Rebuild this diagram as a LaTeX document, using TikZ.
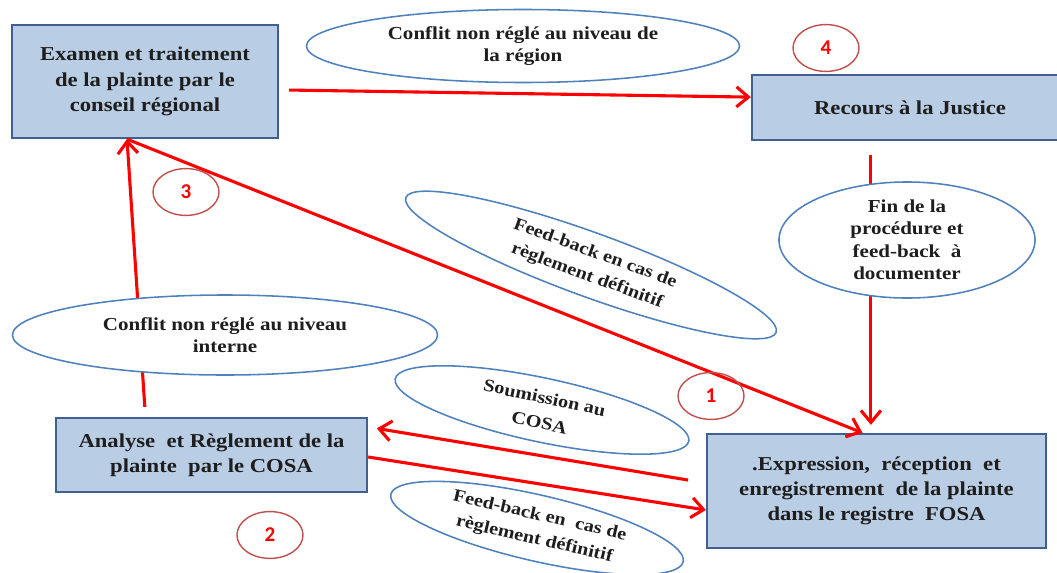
\documentclass[tikz,border=0pt]{standalone}
\usepackage{fontspec}
\setmainfont{Liberation Serif}[FakeStretch=1.15]
\newfontfamily\numfont{Carlito}
\usetikzlibrary{shapes.geometric,arrows.meta}
\definecolor{boxfill}{RGB}{185,205,228}
\definecolor{boxline}{RGB}{65,95,145}
\definecolor{bleu}{RGB}{79,129,189}
\definecolor{rouge}{RGB}{255,0,0}
\definecolor{brique}{RGB}{192,80,77}
\definecolor{encre}{RGB}{30,30,30}

\begin{document}
\begin{tikzpicture}[x=0.025cm,y=-0.025cm,
  etape/.style={draw=boxline,line width=1.6pt,fill=boxfill,align=center,text=encre,
    font=\bfseries\fontsize{14}{18}\selectfont,inner sep=0pt},
  bulle/.style={ellipse,draw=bleu,line width=1.1pt,fill=white,align=center,text=encre,
    font=\bfseries\fontsize{13}{16}\selectfont,inner sep=0pt},
  penche/.style={bulle,font=\bfseries\fontsize{12.5}{17}\selectfont},
  numero/.style={ellipse,draw=brique,line width=1pt,text=rouge,
    font=\numfont\bfseries\fontsize{15}{15}\selectfont,minimum width=1.65cm,minimum height=1.17cm},
  fleche/.style={draw=rouge,line width=2.2pt,-{Straight Barb[length=3mm,width=5mm]}}]
\path[use as bounding box,clip] (0,0) rectangle (1057,572);

% les etapes
\node[etape,minimum width=6.65cm,minimum height=2.825cm] (examen) at (145,81.5) {Examen et traitement\\de la plainte par le\\conseil régional};
\node[etape,minimum width=7.9cm,minimum height=1.625cm] (recours) at (910,107.5) {Recours à la Justice};
\node[etape,minimum width=7.775cm,minimum height=1.85cm] (cosa) at (211.5,455) {Analyse~ et Règlement de la\\plainte~ par le COSA};
\node[etape,minimum width=8.475cm,minimum height=2.85cm] (fosa) at (876.5,491) {.Expression,~ réception~ et\\enregistrement~ de la plainte\\dans le registre~ FOSA};

% les fleches
\coordinate (pied) at ([xshift=-0.45cm]examen.south);
\draw[fleche,shorten <=0.25cm] ([yshift=-0.21cm]examen.east) -- ([yshift=0.26cm]recours.west);
\draw[fleche,shorten <=0.35cm,shorten >=0.2cm] ([xshift=-0.14cm]fosa.north |- recours.south) -- ([xshift=-0.14cm]fosa.north);
\draw[fleche] (pied) -- ([xshift=-0.35cm]fosa.north);
\draw[fleche,shorten <=0.25cm] ([xshift=-1.65cm]cosa.north) -- (pied);
\draw[fleche,shorten <=0.45cm,shorten >=0.22cm] ([yshift=0.2cm]fosa.west) -- ([yshift=0.7cm]cosa.east);
\draw[fleche] ([yshift=-0.05cm]cosa.east) -- ([yshift=-0.475cm]fosa.west);

% les bulles
\node[bulle,minimum width=10.825cm,minimum height=1.825cm] (region) at (523,46) {Conflit non réglé au niveau de\\la région};
\node[bulle,minimum width=6.4cm,minimum height=2.9cm] (fin) at (907,240) {Fin de la\\procédure et\\feed-back~ à\\documenter};
\node[bulle,minimum width=10.625cm,minimum height=2cm] (interne) at (225,335) {Conflit non réglé au niveau\\interne};
\node[penche,rotate=-20,minimum width=9.85cm,minimum height=1.6cm] (retour) at (591,265) {Feed-back en cas de\\règlement définitif};
\node[penche,rotate=-12,minimum width=7.5cm,minimum height=1.6cm,font=\bfseries\fontsize{12.5}{18}\selectfont] (soumission) at (542,410) {Soumission au\\COSA};
\node[penche,rotate=-13,minimum width=7.5cm,minimum height=1.65cm] (retourcosa) at (537,528) {Feed-back en~ cas de\\règlement définitif};

% les numeros
\node[numero] (un) at (711,396) {1};
\node[numero] (deux) at (270,535) {2};
\node[numero] (trois) at (186,192) {3};
\node[numero] (quatre) at (826,48) {4};
\end{tikzpicture}
\end{document}
